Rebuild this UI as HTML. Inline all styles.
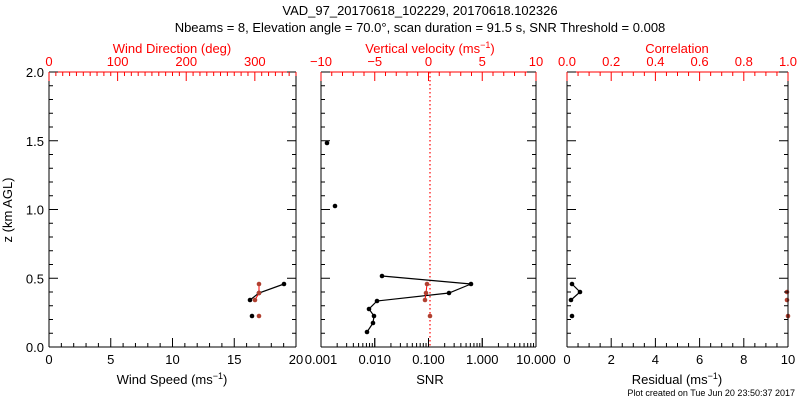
<!DOCTYPE html><html><head><style>body{margin:0;background:#fff}svg{display:block}text{font-family:"Liberation Sans",sans-serif;font-size:13px}</style></head><body>
<svg id="s" width="800" height="400" xmlns="http://www.w3.org/2000/svg">
<text x="420" y="15" text-anchor="middle">VAD_97_20170618_102229, 20170618.102326</text>
<text x="420" y="32" text-anchor="middle">Nbeams = 8, Elevation angle = 70.0°, scan duration = 91.5 s, SNR Threshold = 0.008</text>
<text x="172" y="53" text-anchor="middle" fill="red">Wind Direction (deg)</text>
<text x="430" y="53" text-anchor="middle" fill="red">Vertical velocity (ms<tspan dy="-5" font-size="9">−1</tspan><tspan dy="5">)</tspan></text>
<text x="677" y="53" text-anchor="middle" fill="red">Correlation</text>
<text x="172" y="384" text-anchor="middle">Wind Speed (ms<tspan dy="-5" font-size="9">−1</tspan><tspan dy="5">)</tspan></text>
<text x="430" y="384" text-anchor="middle">SNR</text>
<text x="677" y="384" text-anchor="middle">Residual (ms<tspan dy="-5" font-size="9">−1</tspan><tspan dy="5">)</tspan></text>
<text x="12" y="210" text-anchor="middle" transform="rotate(-90 12 210)">z (km AGL)</text>
<text x="795" y="396" text-anchor="end" style="font-size:9px">Plot created on Tue Jun 20 23:50:37 2017</text>
<line x1="430" y1="72" x2="430" y2="347" stroke="red" stroke-dasharray="1.5,2.5" stroke-width="1.2"/>
<g stroke="#000" fill="none" stroke-width="1.2">
<polyline points="284,284 259,293 250,300"/>
<polyline points="382,276 471,284 449,293 377,301 369,309 374,316 373,323 367,332"/>
<polyline points="572,284 580,292 571,300"/>
</g>
<polyline points="259,284 259,293 255,300" stroke="red" fill="none"/>
<polyline points="427,284 426,293 425,300" stroke="red" fill="none"/>
<g id="pts"></g>
<g id="ax" stroke="#000" fill="none"></g>
<g id="lb"></g>
</svg>
<script>
const S='http://www.w3.org/2000/svg',ax=document.getElementById('ax'),lb=document.getElementById('lb'),pts=document.getElementById('pts');
function el(p,t,a,txt){const e=document.createElementNS(S,t);for(const k in a)e.setAttribute(k,a[k]);if(txt!=null)e.textContent=String(txt);p.appendChild(e);return e}
const T=72,B=347;
function ln(x1,y1,x2,y2,c){el(ax,'line',{x1,y1,x2,y2,stroke:c||'#000'})}
const panels=[[49,296],[321,536],[567,788]];
panels.forEach(([L,R],i)=>{
 ln(L,T,L,B);ln(R,T,R,B);ln(L,B,R,B);ln(L,T,R,T,'red');
 for(let k=0;k<=20;k++){const y=B-(B-T)*k/20,len=k%5?4:9;ln(L,y,L+len,y);ln(R,y,R-len,y);
  if(i==0&&k%5==0)el(lb,'text',{x:L-5,y:y+5,'text-anchor':'end'},(k/10).toFixed(1));}
});
function xt(L,R,min,max,maj,mn,top,col,fmt){const n=Math.round((max-min)/mn);for(let j=0;j<=n;j++){const v=min+j*mn;const x=L+(R-L)*(v-min)/(max-min);const m=Math.abs(v/maj-Math.round(v/maj))<1e-6;const len=m?9:4;
 if(top)ln(x,T,x,T+len,col);else ln(x,B,x,B-len);
 if(m)el(lb,'text',{x,y:top?T-6:B+17,'text-anchor':'middle',fill:col||'#000'},fmt(v));}}
xt(49,296,0,20,5,1,false,null,v=>Math.round(v));
xt(49,296,0,360,100,10,true,'red',v=>v>350?'':Math.round(v));
xt(321,536,-10,10,5,1,true,'red',v=>{v=Math.round(v);return v<0?'−'+(-v):''+v});
xt(567,788,0,10,2,0.5,false,null,v=>Math.round(v));
xt(567,788,0,1,0.2,0.05,true,'red',v=>v.toFixed(1));
const labs=['0.001','0.010','0.100','1.000','10.000'];
for(let d=0;d<4;d++)for(let m=1;m<10;m++){const x=321+53.75*(d+Math.log10(m));ln(x,B,x,B-(m==1?9:4));}
labs.forEach((t,d)=>{const x=321+53.75*d;ln(x,B,x,B-9);el(lb,'text',{x,y:B+17,'text-anchor':'middle'},t)});
const blk=[[284,284],[259,293],[250,300],[252,316],[382,276],[471,284],[449,293],[377,301],[369,309],[374,316],[373,323],[367,332],[335,206],[327,143],[572,284],[580,292],[571,300],[572,316]];
const red=[[259,284],[259,293],[255,300],[259,316],[427,284],[426,293],[425,300],[430,316],[787,292],[787,300],[788,316]];
blk.forEach(([x,y])=>el(pts,'circle',{cx:x,cy:y,r:2.3,fill:'#000'}));
red.forEach(([x,y])=>el(pts,'circle',{cx:x,cy:y,r:2.3,fill:'#b04030'}));
</script></body></html>
